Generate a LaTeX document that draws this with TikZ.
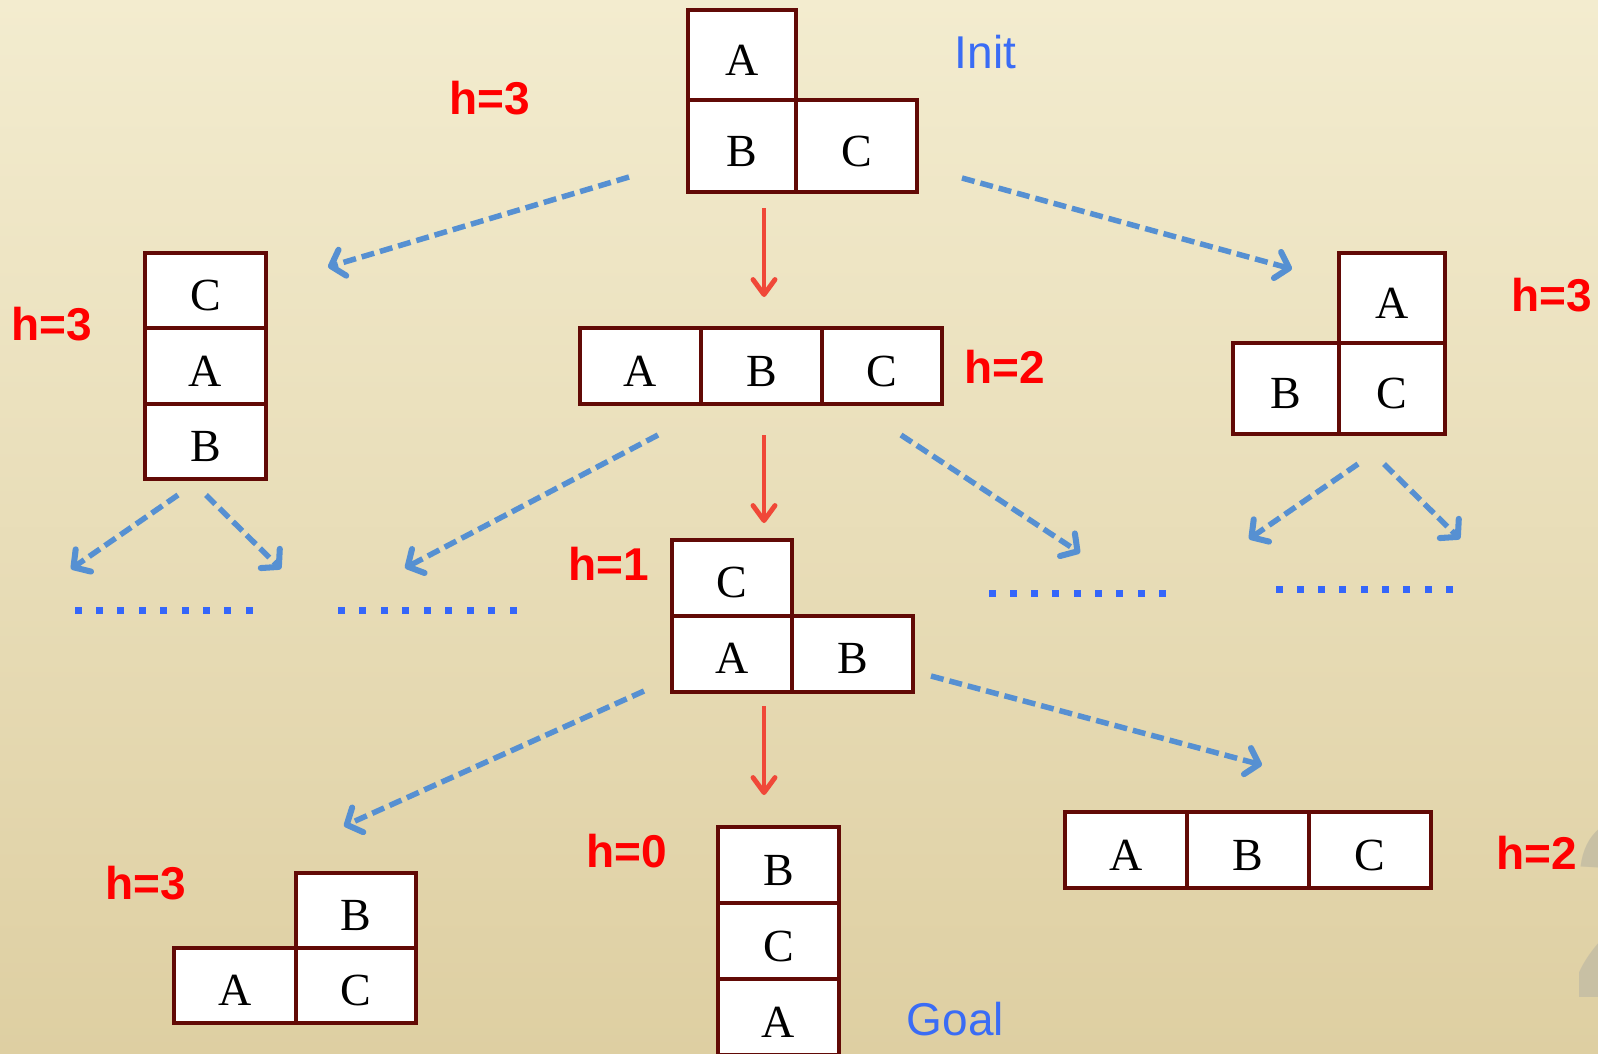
\documentclass[tikz,border=0pt]{standalone}
\usepackage{fontspec}
\setmainfont{Liberation Serif}
\newfontfamily\labelsans{Liberation Sans}
\usetikzlibrary{arrows.meta}

\definecolor{blockedge}{RGB}{98,10,6}
\definecolor{hred}{RGB}{255,0,0}
\definecolor{moveblue}{RGB}{86,144,210}
\definecolor{dotblue}{RGB}{52,102,250}
\definecolor{nameblue}{RGB}{58,108,245}
\definecolor{bestred}{RGB}{240,72,56}
\definecolor{papertop}{RGB}{243,236,207}
\definecolor{papermid}{RGB}{238,229,194}
\definecolor{paperbot}{RGB}{222,207,162}
\definecolor{pagenum}{RGB}{200,192,164}

\tikzset{
  cell/.style={draw=blockedge, fill=white, line width=4pt, inner sep=0pt,
    font=\fontsize{46}{46}\selectfont, minimum width=121pt, minimum height=76pt,
    text height=40pt, text depth=0pt},
  hlab/.style={text=hred, font=\labelsans\bfseries\fontsize{46}{46}\selectfont, inner sep=0pt},
  namelab/.style={text=nameblue, font=\labelsans\fontsize{46}{46}\selectfont, inner sep=0pt},
  bestmove/.style={draw=bestred, line width=3.5pt,
    -{Straight Barb[length=15pt,width=22pt,line width=0pt 1.4,round]}},
  othermove/.style={draw=moveblue, line width=5.5pt, dash pattern=on 13pt off 6pt,
    -{Straight Barb[length=12pt,width=27pt,line width=0pt 1.1,round]}},
}

\begin{document}
\begin{tikzpicture}[x=1pt,y=-1pt]
\useasboundingbox (0,0) rectangle (1598,1053);
\clip (0,0) rectangle (1598,1053);

% parchment background
\shade[top color=papertop, middle color=papermid, bottom color=paperbot]
  (0,0) rectangle (1598,1053);

% page number peeking in at the right edge
\node[anchor=base west, inner sep=0pt, text=pagenum,
      font=\labelsans\bfseries\fontsize{260}{260}\selectfont] (pgnum) at (1570,997) {2};

% initial state
\node[cell, minimum width=108pt, minimum height=90pt] (i-a) at (742,55) {A};
\node[cell, minimum width=108pt, minimum height=92pt] (i-b) at (742,146) {B};
\node[cell, minimum width=121pt, minimum height=92pt] (i-c) at (856.5,146) {C};
\node[namelab] (init) at (985.5,52) {Init};
\node[hlab] (h-i) at (490,98) {h=3};

% left successor: C on A on B
\node[cell, minimum height=75.5pt] (l-c) at (205.5,290.5) {C};
\node[cell, minimum height=75.5pt] (l-a) at (205.5,366) {A};
\node[cell, minimum height=75.5pt] (l-b) at (205.5,441.5) {B};
\node[hlab] (h-l) at (52,324) {h=3};

% middle successor: all on table
\node[cell] (m-a) at (640.5,366) {A};
\node[cell] (m-b) at (761.5,366) {B};
\node[cell, minimum width=120pt] (m-c) at (882,366) {C};
\node[hlab] (h-m) at (1005,367) {h=2};

% right successor: A on C, B alone
\node[cell, minimum width=106pt, minimum height=90pt] (r-a) at (1392,298) {A};
\node[cell, minimum width=106pt, minimum height=91pt] (r-b) at (1286,388.5) {B};
\node[cell, minimum width=106pt, minimum height=91pt] (r-c) at (1392,388.5) {C};
\node[hlab] (h-r) at (1552,295) {h=3};

% second level: C on A, B alone
\node[cell, minimum width=120pt] (s-c) at (732,577.5) {C};
\node[cell, minimum width=120pt] (s-a) at (732,653.5) {A};
\node[cell] (s-b) at (852.5,653.5) {B};
\node[hlab] (h-s) at (609,564) {h=1};

% third level, left: B on C, A alone
\node[cell, minimum width=120pt, minimum height=75pt] (t-b) at (356,910.5) {B};
\node[cell, minimum width=122pt, minimum height=75pt] (t-a) at (235,985.5) {A};
\node[cell, minimum width=120pt, minimum height=75pt] (t-c) at (356,985.5) {C};
\node[hlab] (h-t) at (146,883) {h=3};

% goal: B on C on A
\node[cell] (g-b) at (778.5,865) {B};
\node[cell] (g-c) at (778.5,941) {C};
\node[cell] (g-a) at (778.5,1017) {A};
\node[hlab] (h-g) at (627,851) {h=0};
\node[namelab] (goal) at (955.5,1019) {Goal};

% third level, right: all on table
\node[cell, minimum width=122pt] (u-a) at (1126,850) {A};
\node[cell, minimum width=122pt] (u-b) at (1248,850) {B};
\node[cell, minimum width=122pt] (u-c) at (1370,850) {C};
\node[hlab] (h-u) at (1537,853) {h=2};

% arrow end points
\coordinate (r1s) at (764,208);  \coordinate (r1e) at (764,297);
\coordinate (r2s) at (764,435);  \coordinate (r2e) at (764,523);
\coordinate (r3s) at (764,706);  \coordinate (r3e) at (764,795);

\coordinate (b1s) at (629,177);  \coordinate (b1e) at (328,267);
\coordinate (b2s) at (962,178);  \coordinate (b2e) at (1292,269);
\coordinate (b3s) at (178,495);  \coordinate (b3e) at (71,569);
\coordinate (b4s) at (206,495);  \coordinate (b4e) at (281,569);
\coordinate (b5s) at (658,435);  \coordinate (b5e) at (405,568);
\coordinate (b6s) at (901,435);  \coordinate (b6e) at (1080,553);
\coordinate (b7s) at (1358,464); \coordinate (b7e) at (1249,539);
\coordinate (b8s) at (1384,464); \coordinate (b8e) at (1460,539);
\coordinate (b9s) at (644,691);  \coordinate (b9e) at (344,826);
\coordinate (b10s) at (931,676); \coordinate (b10e) at (1262,765);

% chosen moves
\draw[bestmove] (r1s) -- (r1e);
\draw[bestmove] (r2s) -- (r2e);
\draw[bestmove] (r3s) -- (r3e);

% other moves
\draw[othermove] (b1s) -- (b1e);
\draw[othermove] (b2s) -- (b2e);
\draw[othermove] (b3s) -- (b3e);
\draw[othermove] (b4s) -- (b4e);
\draw[othermove] (b5s) -- (b5e);
\draw[othermove] (b6s) -- (b6e);
\draw[othermove] (b7s) -- (b7e);
\draw[othermove] (b8s) -- (b8e);
\draw[othermove] (b9s) -- (b9e);
\draw[othermove] (b10s) -- (b10e);

% unexplored continuations
\foreach \k in {0,...,8} {
  \fill[dotblue] ({78+\k*21.4-3.5},606.5) rectangle ++(7,7);
  \fill[dotblue] ({341+\k*21.5-3.5},606.5) rectangle ++(7,7);
  \fill[dotblue] ({992+\k*21.3-3.5},589.5) rectangle ++(7,7);
  \fill[dotblue] ({1279+\k*21.3-3.5},585.5) rectangle ++(7,7);
}
\end{tikzpicture}
\end{document}
